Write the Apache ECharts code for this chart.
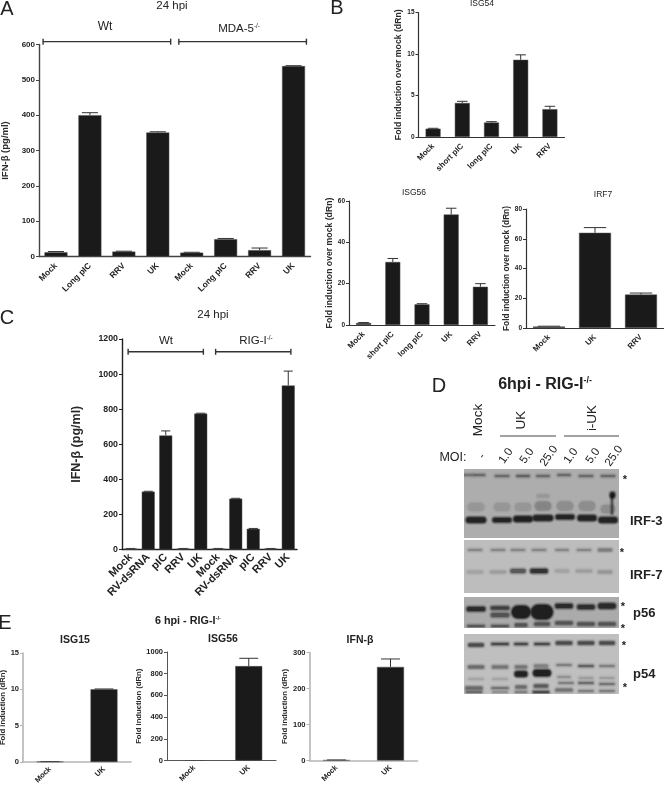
<!DOCTYPE html>
<html>
<head>
<meta charset="utf-8">
<title>Figure</title>
<script src="https://cdn.jsdelivr.net/npm/echarts@6/dist/echarts.min.js"></script>
<style>
  html, body { margin: 0; padding: 0; background: #fff; }
  #chart { width: 664px; height: 786px; }
</style>
</head>
<body>
<div id="chart"></div>
<script>
// panel A
var aCats = ['Mock', 'Long pIC', 'RRV', 'UK', 'Mock', 'Long pIC', 'RRV', 'UK'];
var aVals = [12, 400, 14, 351, 11, 49, 18, 539];
var aErrs = [14, 407, 15, 353, 12, 51, 24, 540];
// panel B
var isg54Cats = ['Mock', 'short pIC', 'long pIC', 'UK', 'RRV'];
var isg54Vals = [1, 4.1, 1.75, 9.3, 3.35];
var isg54Errs = [1.05, 4.3, 1.85, 9.9, 3.7];
var isg56Cats = ['Mock', 'short pIC', 'long pIC', 'UK', 'RRV'];
var isg56Vals = [1, 30.5, 10, 53.5, 18.5];
var isg56Errs = [1.2, 32.2, 10.3, 56.5, 20];
var irf7Cats = ['Mock', 'UK', 'RRV'];
var irf7Vals = [1, 64, 22.5];
var irf7Errs = [1.2, 67.5, 23.5];
// panel C
var cCats = ['Mock', 'RV-dsRNA', 'pIC', 'RRV', 'UK', 'Mock', 'RV-dsRNA', 'pIC', 'RRV', 'UK'];
var cVals = [5, 330, 650, 5, 775, 5, 290, 118, 5, 935];
var cErrs = [6, 332, 676, 6, 777, 6, 292, 120, 6, 1017];
// panel E
var eCats = ['Mock', 'UK'];
var eIsg15Vals = [0.05, 10];
var eIsg15Errs = [0.06, 10.05];
var eIsg56Vals = [0, 870];
var eIsg56Errs = [0, 942];
var eIfnVals = [1, 260];
var eIfnErrs = [1.5, 282];
// brackets: first category, last category, level on the value axis
var aBrackets = [[0, 3, 608], [4, 7, 608]];
var cBrackets = [[0, 4, 1127], [5, 9, 1127]];
// blot bands: x, y, width, height, darkness (in blot units)
var irf3Bands = [
  [3, 6, 10, 2, .3], [15, 6, 12, 2, .35], [38, 7, 14, 2, .35], [59, 7, 13, 2, .4], [79, 7, 13, 2, .35],
  [100, 6, 13, 2, .35], [122, 7, 14, 2, .35], [144, 7, 14, 2, .35],
  [12, 38, 16, 8, .1], [38, 38, 16, 8, .1], [59, 38, 16, 8, .1], [79, 37, 16, 9, .2], [101, 37, 16, 9, .15],
  [123, 37, 16, 9, .15], [144, 40, 14, 8, .15], [79, 27, 12, 3, .1],
  [12, 51, 19, 5, .95], [38, 51, 18, 4, .95], [59, 50, 18, 5, 1], [79, 49, 19, 5, .95], [101, 48, 18, 4, .95],
  [123, 49, 18, 5, .95], [144, 51, 18, 5, .95], [148, 36, 1, 18, .6], [148.5, 26, 4, 5, 1]
];
var irf7Bands = [
  [11, 10, 14, 2, .25], [34, 10, 14, 2, .25], [54, 10, 14, 2, .25], [75, 10, 14, 2, .25], [98, 10, 13, 2, .25],
  [120, 10, 14, 2, .25], [141, 10, 14, 3, .3],
  [11, 32, 16, 3, .12], [34, 32, 16, 3, .14], [54, 31, 15, 4, .5], [75, 31, 17, 4, .8], [98, 31, 14, 3, .12],
  [120, 31, 16, 3, .14], [141, 32, 14, 3, .18]
];
var p56Bands = [
  [12, 12, 18, 4, .85], [36, 11, 18, 3, .65], [36, 18, 18, 4, .5], [57, 15, 18, 12, 1], [78, 15, 21, 14, 1],
  [100, 9, 17, 4, .85], [122, 10, 17, 4, .8], [143, 9, 17, 5, .85],
  [12, 29, 17, 2, .45], [36, 29, 17, 2, .45], [57, 28, 12, 3, .5], [78, 27, 15, 3, .5],
  [100, 26, 17, 3, .5], [122, 27, 17, 3, .5], [143, 27, 17, 3, .5]
];
var p54Bands = [
  [12, 11, 15, 3, .6], [36, 10, 17, 2, .6], [57, 10, 13, 2, .6], [78, 10, 15, 2, .6],
  [100, 9, 16, 3, .6], [122, 9, 16, 3, .6], [143, 9, 15, 3, .6],
  [12, 33, 16, 3, .4], [36, 33, 16, 3, .35], [57, 33, 12, 3, .35], [77, 32, 14, 3, .3],
  [100, 31, 15, 2, .3], [122, 32, 15, 2, .45], [143, 32, 15, 2, .3],
  [57, 40, 12, 5, 1], [78, 39, 17, 6, 1], [12, 45, 15, 2, .12], [36, 45, 15, 2, .12], [100, 43, 13, 2, .2],
  [122, 44, 14, 2, .15], [143, 44, 14, 2, .15],
  [10, 54, 17, 3, .4], [36, 54, 17, 2, .35], [57, 53, 11, 3, .4], [77, 52, 14, 3, .5],
  [102, 49, 15, 2, .3], [122, 49, 15, 2, .4], [143, 50, 15, 2, .35],
  [10, 58, 16, 2, .4], [36, 58, 15, 2, .2], [57, 58, 12, 2, .3], [77, 58, 16, 2, .6],
  [100, 56, 17, 3, .35], [122, 57, 15, 2, .3], [143, 57, 15, 2, .3]
];
var blotNames = ['IRF-3', 'IRF-7', 'p56', 'p54'];
var moiLabels = ['-', '1.0', '5.0', '25.0', '1.0', '5.0', '25.0'];

var FONT = '"Liberation Sans", Arial, sans-serif';
var grids = [], xAxes = [], yAxes = [], series = [], graphics = [];

function barPanel(p) {
  var i = grids.length;
  var darkAxis = p.axisColor || '#333';
  grids.push({ left: p.x, top: p.y, width: p.w, height: p.h, outerBoundsMode: 'none' });
  xAxes.push({
    type: 'category', gridIndex: i, data: p.cats,
    axisLine: { lineStyle: { color: darkAxis, width: p.axisWidth || 1.2 } },
    axisTick: { alignWithLabel: true, length: 3, lineStyle: { color: darkAxis } },
    axisLabel: { interval: 0, rotate: 45, fontFamily: FONT, fontWeight: 'bold', fontSize: p.catSize, color: '#222', margin: p.catMargin || 6 }
  });
  yAxes.push({
    type: 'value', gridIndex: i, min: 0, max: p.max, interval: p.step,
    name: p.name, nameLocation: 'middle', nameGap: p.nameGap, nameRotate: 90,
    nameTextStyle: { fontFamily: FONT, fontWeight: 'bold', fontSize: p.nameSize, color: '#2a2a2a' },
    splitLine: { show: false },
    axisLine: { show: true, lineStyle: { color: darkAxis, width: p.axisWidth || 1.2 } },
    axisTick: { show: true, length: 3, lineStyle: { color: darkAxis } },
    axisLabel: { fontFamily: FONT, fontWeight: 'bold', fontSize: p.tickSize, color: '#222', margin: 4,
      formatter: function (v) { return String(v); } }
  });
  series.push({
    type: 'bar', xAxisIndex: i, yAxisIndex: i, data: p.vals, barWidth: p.barW,
    itemStyle: { color: '#1a1a1a', borderColor: '#555', borderWidth: .5 }, silent: true
  });
  series.push({
    type: 'custom', xAxisIndex: i, yAxisIndex: i, clip: false, silent: true,
    data: p.vals.map(function (v, k) { return [k, v, p.errs[k]]; }),
    encode: { x: 0, y: [1, 2] },
    renderItem: function (params, api) {
      var a = api.coord([api.value(0), api.value(1)]);
      var b = api.coord([api.value(0), api.value(2)]);
      var cap = p.barW * .35;
      return {
        type: 'group', children: [
          { type: 'line', shape: { x1: a[0], y1: a[1], x2: a[0], y2: b[1] }, style: { stroke: '#333', lineWidth: 1 } },
          { type: 'line', shape: { x1: a[0] - cap, y1: b[1], x2: a[0] + cap, y2: b[1] }, style: { stroke: '#333', lineWidth: 1 } }
        ]
      };
    }
  });
  if (p.brackets) {
    series.push({
      type: 'custom', xAxisIndex: i, yAxisIndex: i, clip: false, silent: true, data: p.brackets,
      encode: { x: [0, 1], y: 2 },
      renderItem: function (params, api) {
        var band = api.size([1, 0])[0];
        var y = api.coord([0, api.value(2)])[1];
        var x1 = api.coord([api.value(0), 0])[0] - band * p.bracketPad;
        var x2 = api.coord([api.value(1), 0])[0] + band * p.bracketPad;
        var st = { stroke: '#333', lineWidth: 1.4 };
        return {
          type: 'group', children: [
            { type: 'line', shape: { x1: x1, y1: y, x2: x2, y2: y }, style: st },
            { type: 'line', shape: { x1: x1, y1: y - 3, x2: x1, y2: y + 3 }, style: st },
            { type: 'line', shape: { x1: x2, y1: y - 3, x2: x2, y2: y + 3 }, style: st }
          ]
        };
      }
    });
  }
}

function blotPanel(rect, bg, bands) {
  var i = grids.length;
  grids.push({ left: rect[0], top: rect[1], width: rect[2], height: rect[3], show: true, backgroundColor: bg, borderWidth: 0, outerBoundsMode: 'none' });
  xAxes.push({ type: 'value', gridIndex: i, min: 0, max: rect[2], show: false });
  yAxes.push({ type: 'value', gridIndex: i, min: 0, max: rect[3], inverse: true, show: false, splitLine: { show: false } });
  series.push({
    type: 'custom', xAxisIndex: i, yAxisIndex: i, clip: true, silent: true, data: bands,
    encode: { x: 0, y: 1 },
    renderItem: function (params, api) {
      var c = api.coord([api.value(0), api.value(1)]);
      var w = api.value(2), h = api.value(3), d = api.value(4);
      // nested soft rects so a band fades out the way a scanned blot does
      var layers = [[5, .12], [3, .2], [1.5, .3], [0, .6]];
      return {
        type: 'group',
        children: layers.map(function (l) {
          var lw = w + l[0], lh = h + l[0];
          return {
            type: 'rect',
            shape: { x: c[0] - lw / 2, y: c[1] - lh / 2, width: lw, height: lh, r: lh / 2 },
            style: { fill: 'rgba(15,15,15,' + (d * l[1]) + ')', shadowBlur: 2, shadowColor: 'rgba(15,15,15,' + (d * l[1]) + ')' }
          };
        })
      };
    }
  });
}

function label(text, x, y, size, opt) {
  opt = opt || {};
  graphics.push({
    type: 'text', x: x, y: y, rotation: (opt.rot || 0) * Math.PI / 180, silent: true,
    style: {
      text: text, fontFamily: FONT, fontSize: size, fontWeight: opt.bold ? 'bold' : 'normal',
      fill: opt.color || '#222', align: opt.align || 'center', verticalAlign: 'middle', rich: opt.rich
    }
  });
}

function supRich(size, bold) {
  var w = bold ? 'bold' : 'normal';
  return {
    m: { fontFamily: FONT, fontSize: size, fontWeight: w, fill: '#222', color: '#222' },
    s: { fontFamily: FONT, fontSize: size * .55, fontWeight: w, fill: '#222', color: '#222', verticalAlign: 'top', padding: [0, 0, size * .5, 0] }
  };
}

barPanel({ x: 39, y: 44.5, w: 271.5, h: 212, cats: aCats, vals: aVals, errs: aErrs, max: 600, step: 100, barW: 23,
  name: 'IFN-β (pg/ml)', nameGap: 29, nameSize: 9.5, tickSize: 8, catSize: 8.5, catMargin: 8, brackets: aBrackets, bracketPad: .38, axisColor: '#444', axisWidth: 1.4 });
barPanel({ x: 418.5, y: 12.5, w: 146, h: 124.5, cats: isg54Cats, vals: isg54Vals, errs: isg54Errs, max: 15, step: 5, barW: 15,
  name: 'Fold induction over mock (dRn)', nameGap: 14, nameSize: 8.7, tickSize: 6.5, catSize: 8, catMargin: 8 });
barPanel({ x: 349, y: 201, w: 146, h: 124, cats: isg56Cats, vals: isg56Vals, errs: isg56Errs, max: 60, step: 20, barW: 15,
  name: 'Fold induction over mock (dRn)', nameGap: 12, nameSize: 8.7, tickSize: 6.5, catSize: 8, catMargin: 8 });
barPanel({ x: 526, y: 209, w: 138, h: 119, cats: irf7Cats, vals: irf7Vals, errs: irf7Errs, max: 80, step: 20, barW: 32,
  name: 'Fold induction over mock (dRn)', nameGap: 13, nameSize: 8.3, tickSize: 6.5, catSize: 8, catMargin: 8 });
barPanel({ x: 122, y: 339, w: 175, h: 210.5, cats: cCats, vals: cVals, errs: cErrs, max: 1200, step: 200, barW: 13,
  name: 'IFN-β (pg/ml)', nameGap: 39, nameSize: 12.5, tickSize: 8.8, catSize: 11, catMargin: 6, brackets: cBrackets, bracketPad: .15, axisColor: '#222', axisWidth: 1.4 });
barPanel({ x: 23, y: 653, w: 108, h: 109, cats: eCats, vals: eIsg15Vals, errs: eIsg15Errs, max: 15, step: 5, barW: 27,
  name: 'Fold induction (dRn)', nameGap: 15, nameSize: 7.7, tickSize: 7.5, catSize: 7.5, axisColor: '#b5b5b5', axisWidth: 1.6 });
barPanel({ x: 167, y: 652, w: 109, h: 108.5, cats: eCats, vals: eIsg56Vals, errs: eIsg56Errs, max: 1000, step: 200, barW: 27,
  name: 'Fold induction (dRn)', nameGap: 22, nameSize: 7.7, tickSize: 7.5, catSize: 7.5, axisColor: '#555', axisWidth: 1 });
barPanel({ x: 309.5, y: 652.5, w: 108, h: 108, cats: eCats, vals: eIfnVals, errs: eIfnErrs, max: 300, step: 100, barW: 27,
  name: 'Fold induction (dRn)', nameGap: 20, nameSize: 7.7, tickSize: 7.5, catSize: 7.5, axisColor: '#b5b5b5', axisWidth: 1.6 });

blotPanel([464, 469, 155, 69], '#adadad', irf3Bands);
blotPanel([464, 540, 155, 53], '#bdbdbd', irf7Bands);
blotPanel([464, 597, 155, 31], '#ababab', p56Bands);
blotPanel([464, 634, 155, 60], '#bfbfbf', p54Bands);

// panel letters
label('A', 7, 9, 20);
label('B', 337, 8, 20);
label('C', 7, 318, 20);
label('D', 439, 386, 20);
label('E', 5, 623, 20);

// panel A text
label('24 hpi', 172, 6, 11.5);
label('Wt', 105, 27, 12);
label('{m|MDA-5}{s|-/-}', 239, 29, 11.5, { rich: supRich(11.5) });
// panel B titles
label('ISG54', 482, 4, 8.5);
label('ISG56', 414, 193, 8.5);
label('IRF7', 603, 195, 8.5);
// panel C text
label('24 hpi', 213, 315, 11.5);
label('Wt', 166, 341, 11.5);
label('{m|RIG-I}{s|-/-}', 256, 341, 11.5, { rich: supRich(11.5) });
// panel E text
label('{m|6 hpi - RIG-I}{s|-/-}', 188, 621, 10.8, { bold: true, rich: supRich(10.8, true) });
label('ISG15', 75, 640, 10.5, { bold: true });
label('ISG56', 223, 639, 10.5, { bold: true });
label('IFN-β', 360, 640, 10.5, { bold: true });
// panel D text
label('{m|6hpi - RIG-I}{s|-/-}', 545, 385, 16, { bold: true, rich: supRich(16, true) });
label('Mock', 478, 420, 13.5, { rot: 90 });
label('UK', 521, 420, 13.5, { rot: 90 });
label('i-UK', 592, 418, 13.5, { rot: 90 });
label('MOI:', 453, 458, 12.5);
[482, 506, 527, 549, 571, 593, 614].forEach(function (x, k) {
  label(moiLabels[k], x, 456, 11.5, { rot: 55 });
});
[[500, 556], [564, 619]].forEach(function (s) {
  graphics.push({ type: 'line', silent: true, shape: { x1: s[0], y1: 436, x2: s[1], y2: 436 }, style: { stroke: '#444', lineWidth: 1 } });
});
label(blotNames[0], 630, 521, 13, { bold: true, align: 'left' });
label(blotNames[1], 630, 575, 13, { bold: true, align: 'left' });
label(blotNames[2], 633, 613, 13, { bold: true, align: 'left' });
label(blotNames[3], 633, 674, 13, { bold: true, align: 'left' });
[[625, 480], [622, 553], [623, 607], [623, 629], [624, 646], [625, 688]].forEach(function (s) {
  label('*', s[0], s[1], 11, { bold: true });
});

var chart = echarts.init(document.getElementById('chart'));
chart.setOption({
  animation: false,
  backgroundColor: '#fff',
  grid: grids,
  xAxis: xAxes,
  yAxis: yAxes,
  series: series,
  graphic: graphics
});
</script>
</body>
</html>
